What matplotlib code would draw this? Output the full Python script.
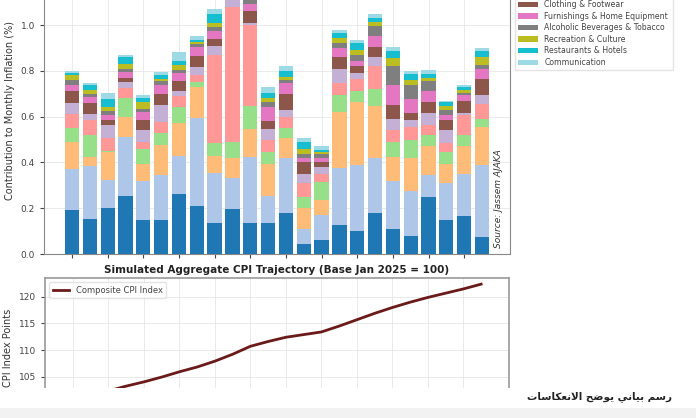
import matplotlib
matplotlib.use("Agg")
import matplotlib.pyplot as plt
from matplotlib.patches import Rectangle
import numpy as np

categories = [
    "Food & Non-Alcoholic Beverages", "Housing & Utilities", "Health", "Education",
    "Transport", "Miscellaneous Goods & Services", "Clothing & Footwear",
    "Furnishings & Home Equipment", "Alcoholic Beverages & Tobacco",
    "Recreation & Culture", "Restaurants & Hotels", "Communication",
]
colors = ["#1f77b4", "#aec7e8", "#ffbb78", "#98df8a", "#ff9896", "#c5b0d5",
          "#8c564b", "#e377c2", "#7f7f7f", "#bcbd22", "#17becf", "#9edae5"]

# contributions per month (rows = months, cols = categories), in % points
contrib = np.array([
    [.190, .180, .120, .060, .060, .050, .050, .030, .020, .020, .010, .010],
    [.155, .230, .040, .095, .065, .025, .050, .025, .015, .015, .025, .005],
    [.200, .125, .120, .005, .055, .060, .020, .020, .020, .015, .035, .030],
    [.255, .255, .090, .080, .045, .025, .020, .025, .015, .020, .030, .010],
    [.150, .170, .075, .065, .030, .050, .045, .035, .015, .030, .015, .015],
    [.150, .195, .130, .055, .045, .075, .050, .040, .015, .010, .015, .015],
    [.260, .170, .140, .070, .050, .020, .045, .035, .015, .020, .020, .035],
    [.210, .385, .135, .020, .030, .035, .050, .040, .010, .010, .010, .015],
    [.135, .220, .075, .055, .385, .040, .030, .035, .015, .020, .040, .020],
    [.195, .135, .090, .070, .590, .030, .030, .030, .020, .020, .030, .020],
    [.135, .290, .120, .100, .355, .010, .050, .030, .020, .020, .030, .020],
    [.135, .120, .140, .050, .055, .045, .035, .060, .025, .015, .025, .025],
    [.180, .240, .085, .045, .050, .030, .070, .045, .015, .015, .025, .020],
    [.045, .065, .090, .050, .060, .040, .050, .020, .015, .025, .030, .015],
    [.060, .110, .065, .080, .035, .030, .020, .020, .015, .010, .010, .015],
    [.125, .250, .245, .075, .050, .065, .050, .040, .020, .025, .020, .015],
    [.100, .290, .275, .045, .055, .025, .030, .025, .025, .020, .030, .015],
    [.180, .240, .225, .075, .100, .040, .045, .045, .045, .020, .015, .020],
    [.110, .210, .105, .065, .050, .050, .060, .090, .080, .035, .030, .020],
    [.080, .195, .145, .080, .055, .030, .030, .060, .065, .020, .025, .015],
    [.250, .095, .125, .050, .045, .050, .050, .045, .045, .015, .015, .020],
    [.150, .160, .085, .050, .040, .055, .045, .020, .025, .015, .020, .005],
    [.165, .185, .120, .050, .085, .010, .055, .025, .010, .010, .015, .010],
    [.075, .315, .165, .035, .065, .040, .070, .045, .015, .035, .025, .015],
])

cpi_index = [100.8, 101.5, 102.3, 103.2, 104.0, 104.9, 105.9, 106.8, 107.9, 109.2,
             110.7, 111.6, 112.4, 112.9, 113.4, 114.5, 115.7, 116.9, 118.0, 119.0,
             119.9, 120.7, 121.5, 122.4]

caption = "رسم بياني يوضح الانعكاسات"

# minimal Arabic shaping (isolated, final, initial, medial) for the caption letters
_FORMS = {
    "ر": (0xFEAD, 0xFEAE, None, None), "و": (0xFEED, 0xFEEE, None, None),
    "ا": (0xFE8D, 0xFE8E, None, None),
    "س": (0xFEB1, 0xFEB2, 0xFEB3, 0xFEB4), "م": (0xFEE1, 0xFEE2, 0xFEE3, 0xFEE4),
    "ب": (0xFE8F, 0xFE90, 0xFE91, 0xFE92), "ي": (0xFEF1, 0xFEF2, 0xFEF3, 0xFEF4),
    "ن": (0xFEE5, 0xFEE6, 0xFEE7, 0xFEE8), "ض": (0xFEBD, 0xFEBE, 0xFEBF, 0xFEC0),
    "ح": (0xFEA1, 0xFEA2, 0xFEA3, 0xFEA4), "ل": (0xFEDD, 0xFEDE, 0xFEDF, 0xFEE0),
    "ع": (0xFEC9, 0xFECA, 0xFECB, 0xFECC), "ك": (0xFED9, 0xFEDA, 0xFEDB, 0xFEDC),
    "ت": (0xFE95, 0xFE96, 0xFE97, 0xFE98),
}


def shape_arabic(text):
    out = []
    for word in text.split(" "):
        chars = list(word)
        glyphs = []
        i = 0
        while i < len(chars):
            c = chars[i]
            prev_joins = i > 0 and _FORMS.get(chars[i - 1], (0, 0, None))[2] is not None
            if c == "ل" and i + 1 < len(chars) and chars[i + 1] == "ا":
                glyphs.append(chr(0xFEFC if prev_joins else 0xFEFB))
                i += 2
                continue
            f = _FORMS.get(c)
            if f is None:
                glyphs.append(c)
                i += 1
                continue
            next_exists = i + 1 < len(chars)
            can_left = f[2] is not None and next_exists
            if prev_joins and can_left:
                glyphs.append(chr(f[3]))
            elif prev_joins:
                glyphs.append(chr(f[1]))
            elif can_left:
                glyphs.append(chr(f[2]))
            else:
                glyphs.append(chr(f[0]))
            i += 1
        out.append("".join(reversed(glyphs)))
    return " ".join(reversed(out))


months = np.arange(len(contrib))

plt.rcParams["font.family"] = ["DejaVu Sans"]
fig = plt.figure(figsize=(6.96, 4.18), dpi=100)

# top: stacked contributions (figure is a cropped view, axes run past the top edge)
ax = fig.add_axes([44 / 696, 1 - 254 / 418, 466 / 696, 286 / 418])
bottom = np.zeros(len(months))
for j, (name, col) in enumerate(zip(categories, colors)):
    ax.bar(months, contrib[:, j], bottom=bottom, width=0.8, color=col, label=name, zorder=3)
    bottom += contrib[:, j]
ax.set_xlim(-1.57, len(months) - 1 + 1.57)
ax.set_ylim(0, 1.249)
ax.set_xticks(months[::2])
ax.set_xticklabels([])
ax.set_yticks([0, 0.2, 0.4, 0.6, 0.8, 1.0])
ax.tick_params(labelsize=6.5, colors="#444444", length=3)
ax.grid(True, color="#e6e6e6", linewidth=0.6, zorder=0)
ax.set_ylabel("Contribution to Monthly Inflation (%)", fontsize=7, color="#333333")
for s in ax.spines.values():
    s.set_color("#888888")
ax.text(0.985, 0.02, "Source: Jassem AJAKA", transform=ax.transAxes, rotation=90,
        ha="right", va="bottom", fontsize=6.5, style="italic", color="#333333")
ax.legend(loc="lower left", bbox_to_anchor=(1.01, 0.643), fontsize=5.6, frameon=True,
          edgecolor="#dddddd", handlelength=2.6, labelspacing=0.33, borderaxespad=0,
          labelcolor="#444444")

# bottom: CPI trajectory
ax2 = fig.add_axes([45 / 696, 0.0, 464 / 696, 1 - 278.3 / 418])
ax2.plot(months, cpi_index, color="#6b1a1a", linewidth=2, label="Composite CPI Index", zorder=3)
ax2.set_xlim(-1.57, len(months) - 1 + 1.57)
ax2.set_ylim(97.2, 123.5)
ax2.set_xticks(months[::2])
ax2.set_xticklabels([])
ax2.set_yticks([105, 110, 115, 120])
ax2.tick_params(labelsize=6.5, colors="#444444", length=3)
ax2.grid(True, color="#e6e6e6", linewidth=0.6, zorder=0)
ax2.set_ylabel("CPI Index Points", fontsize=7, color="#333333")
ax2.set_title("Simulated Aggregate CPI Trajectory (Base Jan 2025 = 100)",
              fontsize=7.5, fontweight="bold", color="#222222", pad=4)
for s in ax2.spines.values():
    s.set_color("#999999")
    s.set_linewidth(1.2)
ax2.legend(loc="upper left", fontsize=6, edgecolor="#dddddd", labelcolor="#444444")

# page background below the cropped chart
fig.patches.append(Rectangle((0, 0), 1, 1 - 388 / 418, transform=fig.transFigure,
                             facecolor="white", edgecolor="none", zorder=10))
fig.patches.append(Rectangle((0, 0), 1, 1 - 408 / 418, transform=fig.transFigure,
                             facecolor="#f2f2f2", edgecolor="none", zorder=11))
fig.text(672 / 696, 1 - 397 / 418, shape_arabic(caption), ha="right", va="center",
         fontsize=7.5, fontweight="bold", color="#222222", zorder=12)

fig.savefig("out.png", dpi=100)
